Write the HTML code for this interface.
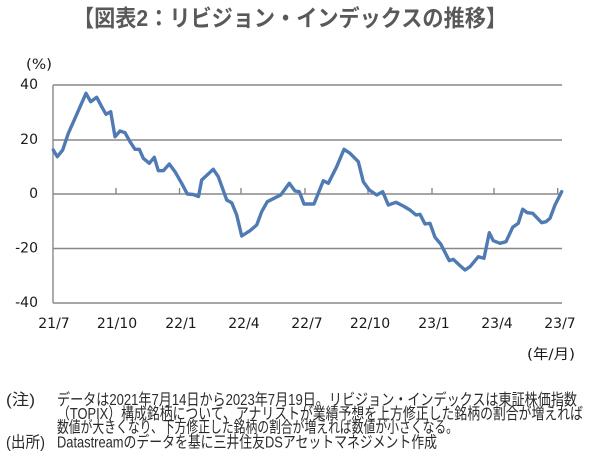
<!DOCTYPE html>
<html lang="ja">
<head>
<meta charset="utf-8">
<style>
  html,body{margin:0;padding:0;background:#fff;}
  body{width:600px;height:473px;overflow:hidden;}
  svg{display:block;}
  .lab{font-family:"DejaVu Sans","Liberation Sans","Noto Sans CJK JP",sans-serif;font-size:14px;fill:#1a1a1a;}
  .jp{font-family:"Liberation Sans","Noto Sans CJK JP",sans-serif;font-size:16px;fill:#2a2a2a;}
  .title{font-family:"Liberation Sans","Noto Sans CJK JP",sans-serif;font-size:23px;font-weight:700;fill:#595959;}
</style>
</head>
<body>
<svg width="600" height="473" viewBox="0 0 600 473" xmlns="http://www.w3.org/2000/svg">
  <rect x="0" y="0" width="600" height="473" fill="#ffffff"/>

  <!-- Title -->
  <text class="title" x="73" y="18" dominant-baseline="central" textLength="434" lengthAdjust="spacingAndGlyphs">【図表2：リビジョン・インデックスの推移】</text>

  <!-- unit -->
  <text class="lab" x="26" y="65" dominant-baseline="central" textLength="26" lengthAdjust="spacingAndGlyphs">(%)</text>

  <!-- gridlines -->
  <g stroke="#888888" stroke-width="1.4" fill="none">
    <line x1="53" y1="85" x2="562" y2="85"/>
    <line x1="53" y1="140" x2="562" y2="140"/>
    <line x1="53" y1="194" x2="562" y2="194"/>
    <line x1="53" y1="248.5" x2="562" y2="248.5"/>
    <line x1="53" y1="303" x2="562" y2="303"/>
    <line x1="53" y1="85" x2="53" y2="303"/>
    <!-- ticks -->
    <line x1="116" y1="188" x2="116" y2="194"/>
    <line x1="179.5" y1="188" x2="179.5" y2="194"/>
    <line x1="241" y1="188" x2="241" y2="194"/>
    <line x1="305" y1="188" x2="305" y2="194"/>
    <line x1="368" y1="188" x2="368" y2="194"/>
    <line x1="432" y1="188" x2="432" y2="194"/>
    <line x1="494" y1="188" x2="494" y2="194"/>
    <line x1="557.7" y1="188" x2="557.7" y2="194"/>
  </g>

  <!-- y labels -->
  <g class="lab" text-anchor="end">
    <text x="38" y="85" dominant-baseline="central">40</text>
    <text x="38" y="140" dominant-baseline="central">20</text>
    <text x="38" y="194" dominant-baseline="central">0</text>
    <text x="38" y="248.5" dominant-baseline="central">-20</text>
    <text x="38" y="303" dominant-baseline="central">-40</text>
  </g>

  <!-- x labels -->
  <g class="lab" text-anchor="middle">
    <text x="54" y="324" dominant-baseline="central">21/7</text>
    <text x="117" y="324" dominant-baseline="central">21/10</text>
    <text x="181" y="324" dominant-baseline="central">22/1</text>
    <text x="244" y="324" dominant-baseline="central">22/4</text>
    <text x="307" y="324" dominant-baseline="central">22/7</text>
    <text x="370" y="324" dominant-baseline="central">22/10</text>
    <text x="434" y="324" dominant-baseline="central">23/1</text>
    <text x="497" y="324" dominant-baseline="central">23/4</text>
    <text x="560" y="324" dominant-baseline="central">23/7</text>
  </g>

  <text class="lab" x="527" y="355" dominant-baseline="central" textLength="48" lengthAdjust="spacingAndGlyphs">(年/月)</text>

  <!-- data line -->
  <polyline fill="none" stroke="#4f7ab3" stroke-width="3.4" stroke-linejoin="round" stroke-linecap="round"
    points="53.3,150 57.3,156.7 62.7,150 68.3,133.3 75,118.3 86,93.3 90.7,101.7 96.7,97.3 101.7,106.7 106,114.3 110.7,111.7 115,136.7 120,131 125,132.7 130,141.7 135,149.3 139.3,149.3 143.3,158.3 149.3,163.3 154.3,157.3 158.3,170.7 163.3,170.7 169.3,164 175,171.7 181.7,183.3 187.3,194 193.3,194.5 198.5,196.5 201.7,180 213.3,169.3 218.3,176.7 226.7,200 231.7,202.7 236.7,215 241.7,236 250,230.7 256.7,225 261.7,211.7 267.3,201.7 274,198.3 280.7,195 289.3,183.3 295,191 299.3,191.7 304,204 314,204 323.3,180.7 328.3,183.3 336.7,166.7 344,149.3 350,153.3 358.3,161.7 363.3,181.7 369.3,190 376.7,195 382.7,191.7 388.3,205 396,202.3 403.3,206 410,210 416,215 420,214.3 425,224 430,223.3 435,237.3 440.7,244 449.3,260.7 453.3,259.3 459.3,265 465,270 470,266.7 478.3,256.7 484,258.3 489.3,232.7 493.3,240.7 500,243.3 506,241.7 512.7,227.3 518.3,223.3 522.7,209.3 527.3,212.7 532.7,213.3 541.7,222.7 546,221.7 550,218.3 555,205 561.7,191.7"/>

  <!-- notes -->
  <text class="jp" x="6" y="400.5" dominant-baseline="central" textLength="29" lengthAdjust="spacingAndGlyphs">(注)</text>
  <text class="jp" x="57" y="400.5" dominant-baseline="central" textLength="520" lengthAdjust="spacingAndGlyphs">データは2021年7月14日から2023年7月19日。リビジョン・インデックスは東証株価指数</text>
  <text class="jp" x="57" y="414.5" dominant-baseline="central" textLength="526" lengthAdjust="spacingAndGlyphs">（TOPIX）構成銘柄について、アナリストが業績予想を上方修正した銘柄の割合が増えれば</text>
  <text class="jp" x="57" y="428" dominant-baseline="central" textLength="401" lengthAdjust="spacingAndGlyphs">数値が大きくなり、下方修正した銘柄の割合が増えれば数値が小さくなる。</text>
  <text class="jp" x="6" y="443" dominant-baseline="central" textLength="39" lengthAdjust="spacingAndGlyphs">(出所)</text>
  <text class="jp" x="57" y="443" dominant-baseline="central" textLength="380" lengthAdjust="spacingAndGlyphs">Datastreamのデータを基に三井住友DSアセットマネジメント作成</text>
</svg>
</body>
</html>
